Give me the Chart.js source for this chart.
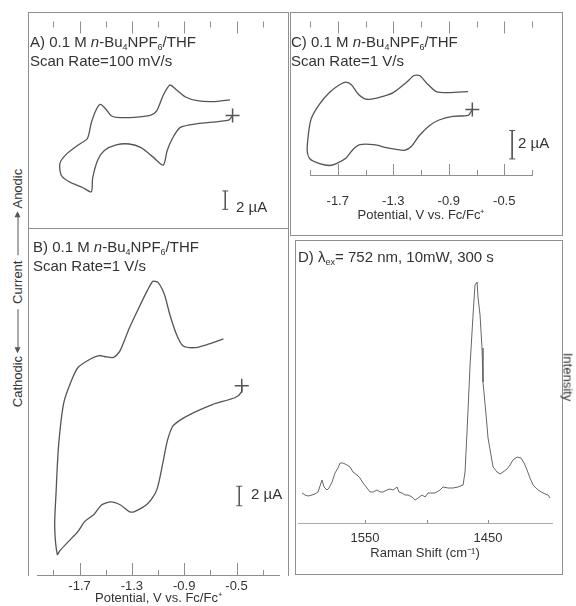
<!DOCTYPE html>
<html lang="en">
<head>
<meta charset="UTF-8">
<title>Cyclic voltammograms and Raman spectrum</title>
<script src="https://cdn.jsdelivr.net/npm/chart.js"></script>
<style>
    body {
        margin: 0;
        background: #fff;
        font-family: "Liberation Sans", Arial, sans-serif;
        color: #333;
    }
    #fig {
        position: relative;
        width: 576px;
        height: 606px;
        overflow: hidden;
    }
    .box {
        position: absolute;
        box-sizing: border-box;
        border: 1px solid #8f8f8f;
    }
    canvas {
        position: absolute;
    }
    .lbl {
        position: absolute;
        font-size: 15px;
        line-height: 19px;
        white-space: nowrap;
    }
    .lbl sub {
        font-size: 9px;
        vertical-align: -3px;
        line-height: 0;
    }
    .bar {
        position: absolute;
        font-size: 15px;
        line-height: 16px;
        white-space: nowrap;
    }
    .rot {
        position: absolute;
        font-size: 13px;
        line-height: 15px;
        white-space: nowrap;
    }
    .arr {
        display: inline-block;
        position: relative;
        width: 42px;
        height: 1px;
        background: #555;
        vertical-align: middle;
        margin: 0 5px;
    }
    .arr::before {
        content: "";
        position: absolute;
        top: -3px;
        border-top: 3.5px solid transparent;
        border-bottom: 3.5px solid transparent;
    }
    .arr.l::before { left: -2px; border-right: 6px solid #555; }
    .arr.r::before { right: -2px; border-left: 6px solid #555; }
</style>
</head>
<body>
<div id="fig">
    <div class="box" style="left:28px;top:12px;width:261px;height:217px"></div>
    <div class="box" style="left:28px;top:228px;width:261px;height:348px;border-bottom:none"></div>
    <div class="box" style="left:290px;top:12px;width:273px;height:224px"></div>
    <div class="box" style="left:295px;top:240px;width:268px;height:335px"></div>

    <canvas id="chartA" width="259" height="215" style="left:29px;top:13px"></canvas>
    <canvas id="chartB" width="259" height="377" style="left:29px;top:229px"></canvas>
    <canvas id="chartC" width="271" height="222" style="left:291px;top:13px"></canvas>
    <canvas id="chartD" width="266" height="333" style="left:296px;top:241px"></canvas>

    <div class="lbl" style="left:30px;top:32px">A) 0.1 M <i>n</i>-Bu<sub>4</sub>NPF<sub>6</sub>/THF<br>Scan Rate=100 mV/s</div>
    <div class="lbl" style="left:33px;top:237px">B) 0.1 M <i>n</i>-Bu<sub>4</sub>NPF<sub>6</sub>/THF<br>Scan Rate=1 V/s</div>
    <div class="lbl" style="left:291px;top:32px">C) 0.1 M <i>n</i>-Bu<sub>4</sub>NPF<sub>6</sub>/THF<br>Scan Rate=1 V/s</div>
    <div class="lbl" style="left:298px;top:247px">D) λ<sub>ex</sub>= 752 nm, 10mW, 300 s</div>

    <div class="bar" style="left:236px;top:199px">2 µA</div>
    <div class="bar" style="left:251px;top:486px">2 µA</div>
    <div class="bar" style="left:518px;top:135px">2 µA</div>

    <div class="rot" style="left:568px;top:377px;transform:translate(-50%,-50%) rotate(90deg)">Intensity</div>
    <div class="rot" style="left:17px;top:288px;transform:translate(-50%,-50%) rotate(-90deg)">Cathodic<span class="arr l"></span>Current<span class="arr r"></span>Anodic</div>
</div>

<script>
    // potential axis (V vs. Fc/Fc+), shared by the three voltammograms
    const CV_TICKS = [-1.9, -1.7, -1.5, -1.3, -1.1, -0.9, -0.7, -0.5, -0.3];
    const CV_LABELED = [-1.7, -1.3, -0.9, -0.5];

    // A) 100 mV/s, current in uA, starts at the "+"
    const A_V = [-0.53, -0.56, -0.80, -0.93, -0.99, -1.03, -1.06, -1.14, -1.23, -1.32,
                 -1.42, -1.51, -1.56, -1.60, -1.61, -1.68, -1.78, -1.84, -1.85, -1.80,
                 -1.71, -1.64, -1.61, -1.57, -1.54, -1.50, -1.46, -1.42, -1.28, -1.16,
                 -1.11, -1.06, -1.01, -0.96, -0.89, -0.80, -0.68, -0.55];
    const A_I = [0, -0.5, -0.9, -1.3, -2.5, -3.8, -5.4, -4.5, -3.5, -3.1,
                 -3.2, -3.8, -4.8, -6.8, -8.3, -7.8, -7.2, -6.5, -5.2, -4.2,
                 -3.2, -2.5, -0.8, 0.7, 1.2, 0.7, 0, -0.2, -0.2, 0,
                 0.5, 2.2, 3.3, 2.8, 2.0, 1.6, 1.5, 1.7];
    const A_BAR_V = [-0.586, -0.586];
    const A_BAR_I = [-8.2, -10.2];

    // B) 1 V/s
    const B_V = [-0.46, -0.46, -0.51, -0.68, -0.85, -0.94, -0.99, -1.03, -1.06, -1.11,
                 -1.18, -1.28, -1.32, -1.39, -1.46, -1.53, -1.59, -1.66, -1.71, -1.78,
                 -1.85, -1.87, -1.89, -1.88, -1.86, -1.82, -1.76, -1.71, -1.61, -1.55,
                 -1.51, -1.44, -1.39, -1.32, -1.25, -1.18, -1.14, -1.10, -1.05, -1.01,
                 -0.96, -0.91, -0.82, -0.73, -0.60];
    const B_I = [0, -0.6, -1.2, -1.9, -2.9, -3.6, -4.2, -5.7, -7.7, -10.7,
                 -12.1, -12.9, -12.9, -12.2, -11.9, -12.2, -13.2, -13.9, -14.9, -15.9,
                 -16.9, -17.3, -14.4, -11.1, -6.1, -1.7, 0.6, 1.9, 2.8, 3.1,
                 3.0, 2.9, 3.6, 5.9, 7.9, 9.8, 10.7, 10.6, 9.3, 7.3,
                 5.3, 4.1, 3.9, 4.2, 4.8];
    const B_BAR_V = [-0.479, -0.479];
    const B_BAR_I = [-10.3, -12.3];

    // C) 1 V/s
    const C_V = [-0.73, -0.76, -0.87, -0.97, -1.04, -1.11, -1.17, -1.22, -1.28, -1.35,
                 -1.44, -1.54, -1.59, -1.64, -1.71, -1.76, -1.83, -1.90, -1.92, -1.91,
                 -1.89, -1.83, -1.76, -1.69, -1.64, -1.60, -1.55, -1.49, -1.40, -1.30,
                 -1.21, -1.15, -1.11, -1.06, -0.99, -0.90, -0.76];
    const C_I = [0, -0.4, -0.47, -0.73, -1.13, -1.8, -2.6, -2.87, -2.8, -2.67,
                 -2.47, -2.47, -2.8, -3.4, -3.8, -3.93, -3.8, -3.47, -2.93, -1.6,
                 -0.6, 0.4, 1.2, 1.73, 1.93, 1.73, 1.07, 0.73, 0.87, 1.2,
                 1.87, 2.4, 2.4, 1.87, 1.27, 1.2, 1.27];
    const C_BAR_V = [-0.443, -0.443];
    const C_BAR_I = [-1.47, -3.47];

    // D) Raman spectrum, shift in cm-1, intensity in arbitrary units
    const RAMAN_TICKS = [1550, 1500, 1450];
    const RAMAN_LABELED = [1550, 1450];
    const RAMAN_SHIFT = [1601.2, 1598.8, 1596.3, 1593.1, 1590.7, 1588.2, 1585.0, 1583.3, 1580.9, 1579.3,
                         1576.8, 1574.4, 1572.0, 1570.3, 1567.9, 1564.6, 1562.2, 1559.8, 1556.5, 1554.1,
                         1551.6, 1548.4, 1545.9, 1543.5, 1540.2, 1537.8, 1535.4, 1532.1, 1529.7, 1527.2,
                         1524.0, 1522.4, 1519.9, 1517.5, 1515.0, 1511.8, 1509.3, 1506.9, 1503.7, 1501.2,
                         1498.8, 1495.5, 1493.1, 1489.0, 1486.6, 1482.5, 1478.5, 1474.4, 1470.3, 1468.7,
                         1467.1, 1464.6, 1462.2, 1460.6, 1458.9, 1458.1, 1456.5, 1454.9, 1454.1, 1451.6,
                         1450.0, 1447.6, 1445.9, 1442.7, 1440.2, 1437.8, 1434.6, 1432.1, 1429.7, 1426.4,
                         1423.2, 1420.7, 1418.3, 1415.9, 1413.4, 1409.3, 1405.3, 1401.2, 1399.6];
    const RAMAN_INT = [30, 28, 27, 28, 29, 31, 43, 36, 33, 35,
                       41, 50, 55, 60, 60, 58, 56, 51, 48, 45,
                       40, 35, 31, 31, 33, 31, 31, 33, 34, 33,
                       36, 31, 30, 28, 28, 26, 23, 25, 28, 26,
                       30, 30, 30, 33, 36, 35, 35, 36, 38, 51,
                       91, 158, 208, 238, 241, 225, 208, 175, 141, 108,
                       85, 68, 56, 51, 49, 51, 54, 58, 63, 66,
                       65, 60, 53, 45, 38, 33, 30, 28, 25];

    const FONT = '"Liberation Sans", Arial, sans-serif';
    const INK = '#555';
    const FRAME = '#8f8f8f';
    const TEXT = '#333';
    const CV_TITLE = 'Potential, V vs. Fc/Fc⁺';

    Chart.defaults.font.family = FONT;

    function xy(xs, ys) {
        return xs.map((x, i) => ({x: x, y: ys[i]}));
    }

    // tick marks that point into the panel (top frame or bottom axis)
    function tickMarks(sets) {
        return {
            id: 'tickMarks',
            afterDraw(chart) {
                const ctx = chart.ctx;
                const sx = chart.scales.x;
                const area = chart.chartArea;
                ctx.save();
                ctx.strokeStyle = FRAME;
                ctx.lineWidth = 1;
                sets.forEach(s => {
                    const y0 = s.edge === 'top' ? area.top : area.bottom;
                    const dir = s.edge === 'top' ? 1 : -1;
                    s.values.forEach(v => {
                        const len = s.major.includes(v) ? s.long : s.short;
                        const px = Math.round(sx.getPixelForValue(v)) + 0.5;
                        ctx.beginPath();
                        ctx.moveTo(px, y0);
                        ctx.lineTo(px, y0 + dir * len);
                        ctx.stroke();
                    });
                });
                ctx.restore();
            }
        };
    }

    function cvSet(V, I) {
        return {
            data: xy(V, I),
            showLine: true,
            borderColor: INK,
            borderWidth: 1.3,
            tension: 0.25,
            clip: false,
            pointStyle: 'cross',
            pointRadius: c => c.dataIndex === 0 ? 7 : 0,
            pointBorderColor: INK,
            pointBorderWidth: 1.5,
            pointHoverRadius: 0
        };
    }

    function barSet(V, I) {
        return {
            data: xy(V, I),
            showLine: true,
            borderColor: INK,
            borderWidth: 1,
            pointStyle: 'line',
            pointRadius: 3,
            pointBorderColor: INK,
            pointBorderWidth: 1,
            pointHoverRadius: 0
        };
    }

    function cvAxis(min, max, height, labelPad, titlePad) {
        return {
            type: 'linear',
            position: 'bottom',
            min: min,
            max: max,
            afterBuildTicks: s => { s.ticks = CV_TICKS.map(v => ({value: v})); },
            afterFit: s => { s.height = height; },
            grid: {display: false, drawTicks: false},
            border: {display: true, color: FRAME, width: 1},
            ticks: {
                autoSkip: false,
                maxRotation: 0,
                padding: labelPad,
                color: TEXT,
                font: {size: 13},
                callback: v => CV_LABELED.includes(v) ? String(v) : ''
            },
            title: {display: true, text: CV_TITLE, color: TEXT, font: {size: 13}, padding: {top: 0, bottom: titlePad}}
        };
    }

    const base = {
        responsive: false,
        animation: false,
        events: [],
        plugins: {legend: {display: false}, tooltip: {enabled: false}}
    };

    // A
    new Chart(document.getElementById('chartA'), {
        type: 'scatter',
        data: {datasets: [cvSet(A_V, A_I), barSet(A_BAR_V, A_BAR_I)]},
        options: Object.assign({}, base, {
            layout: {padding: 0},
            scales: {
                x: {type: 'linear', display: false, min: -2.0214, max: -0.1714},
                y: {type: 'linear', display: false, min: -11.3, max: 10.2}
            }
        }),
        plugins: [tickMarks([{edge: 'top', values: CV_TICKS, major: CV_LABELED, long: 12, short: 6}])]
    });

    // B
    new Chart(document.getElementById('chartB'), {
        type: 'scatter',
        data: {datasets: [cvSet(B_V, B_I), barSet(B_BAR_V, B_BAR_I)]},
        options: Object.assign({}, base, {
            layout: {padding: 0},
            scales: {
                x: cvAxis(-2.0214, -0.1714, 31, 4, 0),
                y: {type: 'linear', display: false, min: -19.4, max: 15.2}
            }
        }),
        plugins: [tickMarks([{edge: 'bottom', values: CV_TICKS, major: CV_LABELED, long: 12, short: 5}])]
    });

    // C
    new Chart(document.getElementById('chartC'), {
        type: 'scatter',
        data: {datasets: [cvSet(C_V, C_I), barSet(C_BAR_V, C_BAR_I)]},
        options: Object.assign({}, base, {
            layout: {padding: {left: 17, right: 30, top: 0, bottom: 0}},
            scales: {
                x: cvAxis(-1.9, -0.3, 60, 19, 12),
                y: {type: 'linear', display: false, min: -4.6, max: 6.2}
            }
        }),
        plugins: [tickMarks([
            {edge: 'top', values: CV_TICKS, major: CV_LABELED, long: 12, short: 6},
            {edge: 'bottom', values: CV_TICKS, major: CV_LABELED, long: 11, short: 5}
        ])]
    });

    // D
    new Chart(document.getElementById('chartD'), {
        type: 'scatter',
        data: {
            datasets: [{
                data: xy(RAMAN_SHIFT, RAMAN_INT),
                showLine: true,
                borderColor: '#666',
                borderWidth: 1,
                tension: 0,
                pointRadius: 0,
                pointHoverRadius: 0
            }]
        },
        options: Object.assign({}, base, {
            layout: {padding: {left: 2, right: 10, top: 0, bottom: 0}},
            scales: {
                x: {
                    type: 'linear',
                    position: 'bottom',
                    reverse: true,
                    min: 1398,
                    max: 1604.5,
                    afterBuildTicks: s => { s.ticks = RAMAN_TICKS.map(v => ({value: v})); },
                    afterFit: s => { s.height = 51; },
                    grid: {display: false, drawTicks: false},
                    border: {display: true, color: '#aaa', width: 1},
                    ticks: {
                        autoSkip: false,
                        maxRotation: 0,
                        padding: 8,
                        color: TEXT,
                        font: {size: 13},
                        callback: v => RAMAN_LABELED.includes(v) ? String(v) : ''
                    },
                    title: {display: true, text: 'Raman Shift (cm⁻¹)', color: TEXT, font: {size: 13}, padding: {top: 0, bottom: 13}}
                },
                y: {type: 'linear', display: false, min: 0, max: 282}
            }
        }),
        plugins: [tickMarks([{edge: 'bottom', values: RAMAN_TICKS, major: [], long: 3, short: 3}])]
    });
</script>
</body>
</html>
